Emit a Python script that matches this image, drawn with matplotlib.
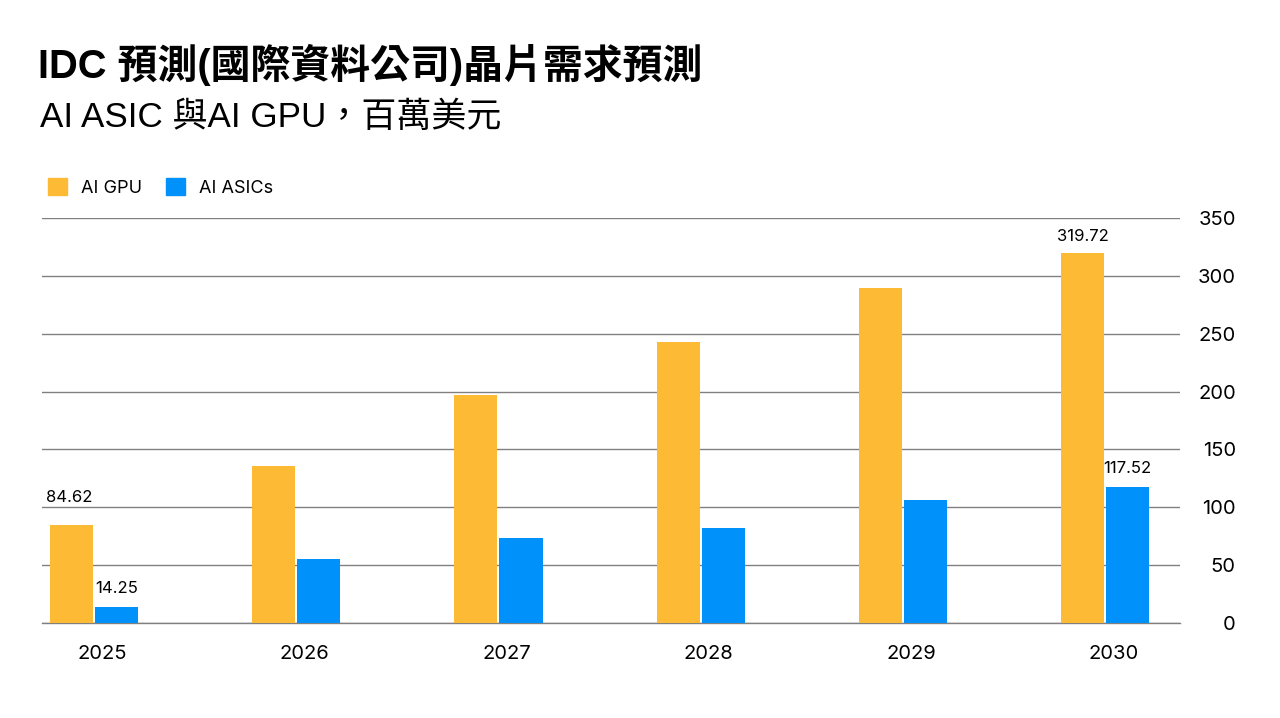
import matplotlib
matplotlib.use('Agg')
import matplotlib.pyplot as plt
from matplotlib.patches import Patch
import numpy as np

plt.rcParams['font.family'] = ['Inter', 'Noto Sans CJK TC', 'DejaVu Sans']

years = ['2025', '2026', '2027', '2028', '2029', '2030']
gpu = [84.62, 135.7, 197.0, 242.9, 289.5, 319.72]
asic = [14.25, 55.3, 73.5, 82.1, 106.3, 117.52]
# only these bars carry a value label
gpu_labels = {0: '84.62', 5: '319.72'}
asic_labels = {0: '14.25', 5: '117.52'}

title = 'IDC 預測(國際資料公司)晶片需求預測'
subtitle = 'AI ASIC 與AI GPU，百萬美元'

gpu_color = '#FDBA35'
asic_color = '#0091FA'
grid_color = '#808080'

fig = plt.figure(figsize=(12.8, 7.18), dpi=100)
ax = fig.add_axes([0.0328, 0.1323, 0.8891, 0.5641])

x = np.arange(len(years))
w = 0.213
gap = 0.005
ax.bar(x - w / 2 - gap, gpu, width=w, color=gpu_color, zorder=3)
ax.bar(x + w / 2 + gap, asic, width=w, color=asic_color, zorder=3)

for i, txt in gpu_labels.items():
    # first label sits higher and left-aligned, like the original
    if i == 0:
        ax.annotate(txt, (x[i] - w - gap, gpu[i]), xytext=(-3, 20),
                    textcoords='offset points', ha='left', va='center', fontsize=12)
    else:
        ax.annotate(txt, (x[i] - w / 2 - gap, gpu[i]), xytext=(0, 12),
                    textcoords='offset points', ha='center', va='center', fontsize=12)
for i, txt in asic_labels.items():
    ax.annotate(txt, (x[i] + w / 2 + gap, asic[i]), xytext=(0, 13),
                textcoords='offset points', ha='center', va='center', fontsize=12)

ax.set_xlim(-0.257, 5.37)
ax.set_ylim(0, 350)
ax.set_yticks(np.arange(0, 351, 50))
ax.set_xticks(x + 0.04)
ax.set_xticklabels(years, fontsize=14.5)
ax.yaxis.tick_right()
ax.tick_params(axis='y', length=0, pad=0, labelsize=14.5)
ax.tick_params(axis='x', length=0, pad=16)
for lbl in ax.get_yticklabels():
    lbl.set_horizontalalignment('right')
    lbl.set_x(1.049)
ax.grid(axis='y', color=grid_color, linewidth=1, zorder=0)
for s in ['top', 'left', 'right']:
    ax.spines[s].set_visible(False)
ax.spines['bottom'].set_color(grid_color)
ax.spines['bottom'].set_linewidth(1)

handles = [Patch(color=gpu_color, label='AI GPU'), Patch(color=asic_color, label='AI ASICs')]
fig.legend(handles=handles, loc='center left', bbox_to_anchor=(0.0245, 0.739), ncol=2,
           frameon=False, fontsize=13, handlelength=1.1, handleheight=1.1,
           handletextpad=0.75, columnspacing=1.3)

fig.text(0.030, 0.909, title, fontsize=28.7, fontweight='bold', va='center',
         family=['Liberation Sans', 'Noto Sans CJK TC'])
fig.text(0.031, 0.837, subtitle, fontsize=25.2, va='center',
         family=['Liberation Sans', 'Noto Sans CJK TC'])

fig.savefig('out.png', dpi=100)
